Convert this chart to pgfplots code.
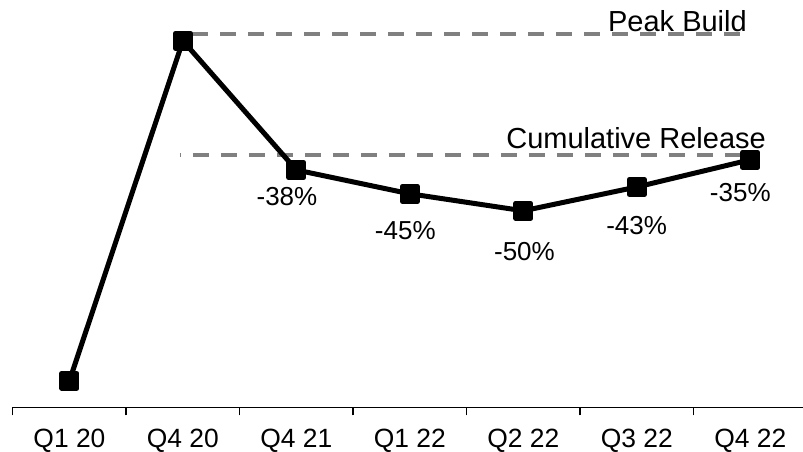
\documentclass[border=0pt]{standalone}
\usepackage{fontspec}
\setmainfont{Liberation Sans}
\usepackage{pgfplots}
\pgfplotsset{compat=1.18}

\definecolor{refgray}{RGB}{128,128,128}

% Inventory build and release, indexed to the peak build (= 100)
\pgfplotstableread{
x  y
0  0
1  100
2  62
3  55
4  50
5  57
6  65
}\inventory

\begin{document}
\begin{tikzpicture}
\useasboundingbox (0,0) rectangle (803pt,452pt);
\begin{axis}[
  at={(12.7pt,44.7pt)}, anchor=south west,
  scale only axis, width=794.3pt, height=407.3pt,
  xmin=-0.5, xmax=6.5, ymin=-7.8, ymax=112,
  axis x line*=bottom, axis y line=none,
  axis line style={-, line width=1.5pt, black},
  xtick={0,...,6},
  xticklabels={Q1 20, Q4 20, Q4 21, Q1 22, Q2 22, Q3 22, Q4 22},
  ytick=\empty,
  major tick length=0pt,
  minor xtick={-0.5,0.5,...,6.5},
  minor tick length=8pt,
  tick align=outside,
  minor tick style={line width=1.5pt, black},
  xticklabel style={font=\fontsize{26.4}{30}\selectfont, anchor=base, inner sep=0pt, yshift=-40pt},
  clip=false,
]
% reference levels
\addplot[refgray, line width=4pt, dash pattern=on 16pt off 12pt, dash phase=15pt]
  coordinates {(0.966,102.06) (5.91,102.06)};
\addplot[refgray, line width=4pt, dash pattern=on 16pt off 12pt, dash phase=15pt]
  coordinates {(0.974,66.39) (5.927,66.39)};

% inventory path
\addplot[black, line width=5pt, line join=round,
  mark=square*, mark size=7.5pt, mark options={draw=none, fill=black}]
  table[x=x, y=y] {\inventory};

% release relative to the peak build
\begin{scope}[every node/.style={anchor=base, inner sep=0pt, font=\fontsize{26}{30}\selectfont}]
\node at (axis cs:1.917,51.69) {-38\%};
\node at (axis cs:2.960,41.60) {-45\%};
\node at (axis cs:4.010,35.31) {-50\%};
\node at (axis cs:4.999,43.08) {-43\%};
\node at (axis cs:5.912,52.66) {-35\%};
\end{scope}

\node[anchor=base east, inner sep=0pt, font=\fontsize{29}{34}\selectfont]
  at (axis cs:5.971,102.65) {Peak Build};
\node[anchor=base east, inner sep=0pt, font=\fontsize{29}{34}\selectfont]
  at (axis cs:6.139,68.36) {Cumulative Release};
\end{axis}
\end{tikzpicture}
\end{document}
